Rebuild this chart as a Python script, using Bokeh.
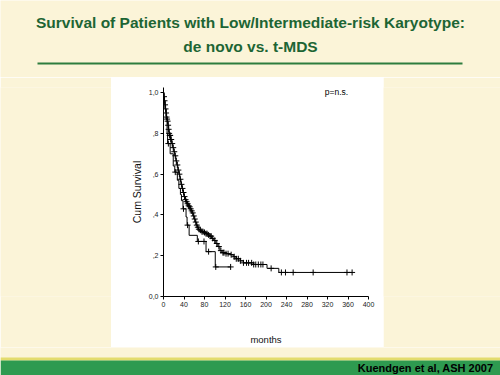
import numpy as np
from bokeh.plotting import figure
from bokeh.layouts import column, row
from bokeh.models import Range1d, FixedTicker, Label, BoxAnnotation
from bokeh.embed import file_html
from bokeh.resources import INLINE

# ---------------- data ----------------
title_line1 = "Survival of Patients with Low/Intermediate-risk Karyotype:"
title_line2 = "de novo vs. t-MDS"
citation = "Kuendgen et al, ASH 2007"
x_label = "months"
y_label = "Cum Survival"
p_text = "p=n.s."

x_ticks = [0, 40, 80, 120, 160, 200, 240, 280, 320, 360, 400]
y_ticks = [0.0, 0.2, 0.4, 0.6, 0.8, 1.0]
y_tick_labels = ["0,0", ",2", ",4", ",6", ",8", "1,0"]

# de novo MDS: Kaplan-Meier step points (months, cumulative survival)
denovo_t = [0, 1, 2, 3, 4, 5, 6, 7, 8, 9, 10, 11, 12, 14, 16, 18, 20, 22, 24, 26,
            28, 30, 32, 34, 36, 38, 40, 42, 44, 46, 48, 50, 52, 54, 56, 58, 60, 62,
            64, 66, 68, 70, 74, 78, 82, 86, 90, 94, 98, 102, 106, 110, 114, 122,
            130, 136, 142, 150, 156, 176, 202, 225, 368]
denovo_s = [1.0, 0.98, 0.96, 0.94, 0.92, 0.90, 0.88, 0.87, 0.86, 0.84, 0.82, 0.80,
            0.79, 0.77, 0.75, 0.73, 0.71, 0.69, 0.665, 0.645, 0.62, 0.60, 0.575,
            0.55, 0.53, 0.51, 0.49, 0.475, 0.465, 0.455, 0.445, 0.44, 0.43, 0.42,
            0.41, 0.395, 0.38, 0.365, 0.35, 0.34, 0.33, 0.325, 0.318, 0.314, 0.308,
            0.302, 0.296, 0.285, 0.275, 0.26, 0.245, 0.225, 0.215, 0.21, 0.205,
            0.195, 0.185, 0.175, 0.165, 0.157, 0.138, 0.118, 0.118]
denovo_cens = [1, 2, 3, 4, 5, 6, 7, 8, 9, 10, 11, 12, 13, 14, 15, 17, 19, 21, 23,
               25, 27, 29, 31, 33, 35, 37, 39, 41, 43, 45, 47, 49, 51, 53, 55, 57,
               59, 61, 63, 65, 67, 69, 72, 75, 77, 80, 83, 85, 88, 91, 93, 96, 100,
               104, 108, 112, 116, 118, 122, 126, 132, 138, 142, 146, 150, 156, 162,
               166, 172, 176, 180, 185, 190, 194, 210, 230, 238, 253, 292, 358, 368]

# t-MDS: Kaplan-Meier step points
tmds_t = [0, 1, 3, 5, 7, 8, 13, 19, 22, 27, 30, 33, 35, 38, 44, 46, 50, 66, 83, 101, 131]
tmds_s = [1.0, 0.96, 0.92, 0.87, 0.80, 0.75, 0.70, 0.64, 0.61, 0.57, 0.53, 0.50,
          0.47, 0.43, 0.39, 0.35, 0.30, 0.27, 0.22, 0.145, 0.145]
tmds_cens = [9.5, 23, 39, 47, 68, 79, 88, 102, 131]


def km_at(t_steps, s_steps, times):
    idx = np.searchsorted(np.array(t_steps), np.array(times), side="right") - 1
    return list(np.array(s_steps)[idx])


# ---------------- layout ----------------
CREAM = "#FBF4D8"
DARK_GREEN = "#1D6534"
RULE_GREEN = "#2E7D3E"
BAND_GREEN = "#2E9A50"
BAND_YELLOW = "#E3DC6E"
FONT = "Liberation Sans"

W = 500
TOP_H, MID_H, BOT_H = 77, 270, 28
LEFT_W, CHART_W = 111, 272
RIGHT_W = W - LEFT_W - CHART_W


def blank(w, h):
    f = figure(width=w, height=h, output_backend="svg", toolbar_location=None,
               x_axis_location=None, y_axis_location=None, min_border=0,
               x_range=Range1d(0, w), y_range=Range1d(h, 0))
    f.grid.visible = False
    f.outline_line_color = None
    f.background_fill_color = CREAM
    f.border_fill_color = CREAM
    return f


# title block
top = blank(W, TOP_H)
top.add_layout(Label(x=250, y=22, text=title_line1, text_align="center",
                     text_baseline="middle", text_font=FONT, text_font_size="15.5px",
                     text_font_style="bold", text_color=DARK_GREEN))
top.add_layout(Label(x=250, y=46, text=title_line2, text_align="center",
                     text_baseline="middle", text_font=FONT, text_font_size="15.5px",
                     text_font_style="bold", text_color=DARK_GREEN))
top.add_layout(BoxAnnotation(left=37, right=462, top=62, bottom=64,
                             fill_color=RULE_GREEN, fill_alpha=1, line_color=None))

# side fillers
left = blank(LEFT_W, MID_H)
right = blank(RIGHT_W, MID_H)

# bottom band
bottom = blank(W, BOT_H)
bottom.add_layout(BoxAnnotation(left=0, right=W, top=10, bottom=13,
                                fill_color=BAND_YELLOW, fill_alpha=1, line_color=None))
bottom.add_layout(BoxAnnotation(left=0, right=W, top=13, bottom=BOT_H,
                                fill_color=BAND_GREEN, fill_alpha=1, line_color=None))
bottom.add_layout(Label(x=493, y=20.5, text=citation, text_align="right",
                        text_baseline="middle", text_font=FONT, text_font_size="11px",
                        text_font_style="bold", text_color="black"))

# chart
p = figure(width=CHART_W, height=MID_H, output_backend="svg", toolbar_location=None,
           x_range=Range1d(0, 400), y_range=Range1d(0, 1.025),
           min_border_left=52, min_border_right=15, min_border_top=10,
           min_border_bottom=43)
p.border_fill_color = "white"
p.background_fill_color = "white"
p.outline_line_color = None
p.grid.visible = False

p.step(denovo_t, denovo_s, mode="after", line_color="black", line_width=1)
p.step(tmds_t, tmds_s, mode="after", line_color="black", line_width=1)
p.scatter(denovo_cens, km_at(denovo_t, denovo_s, denovo_cens), marker="cross",
          size=6, line_color="black", line_width=1)
p.scatter(tmds_cens, km_at(tmds_t, tmds_s, tmds_cens), marker="cross",
          size=6, line_color="black", line_width=1)

p.add_layout(Label(x=314.7, y=1.004, text=p_text, text_align="left",
                   text_baseline="middle", text_font=FONT, text_font_size="8.5px",
                   text_color="black"))

p.xaxis.ticker = FixedTicker(ticks=x_ticks)
p.yaxis.ticker = FixedTicker(ticks=y_ticks)
p.yaxis.major_label_overrides = {t: l for t, l in zip(y_ticks, y_tick_labels)}
for ax in (p.xaxis[0], p.yaxis[0]):
    ax.axis_line_color = "black"
    ax.major_tick_line_color = "black"
    ax.major_tick_out = 3
    ax.major_tick_in = 0
    ax.minor_tick_line_color = None
    ax.major_label_text_font = FONT
    ax.major_label_text_font_size = "7px"
    ax.major_label_text_color = "#222222"
    ax.major_label_standoff = 2
    ax.axis_label_text_font = FONT
    ax.axis_label_text_font_style = "normal"
    ax.axis_label_text_color = "#111111"
p.xaxis.axis_label = x_label
p.xaxis.axis_label_text_font_size = "9.5px"
p.xaxis.axis_label_standoff = 24
p.yaxis.axis_label = y_label
p.yaxis.axis_label_text_font_size = "10.5px"
p.yaxis.axis_label_standoff = 3

page = column(top, row(left, p, right), bottom)
open("out.html", "w").write(file_html(page, INLINE))
